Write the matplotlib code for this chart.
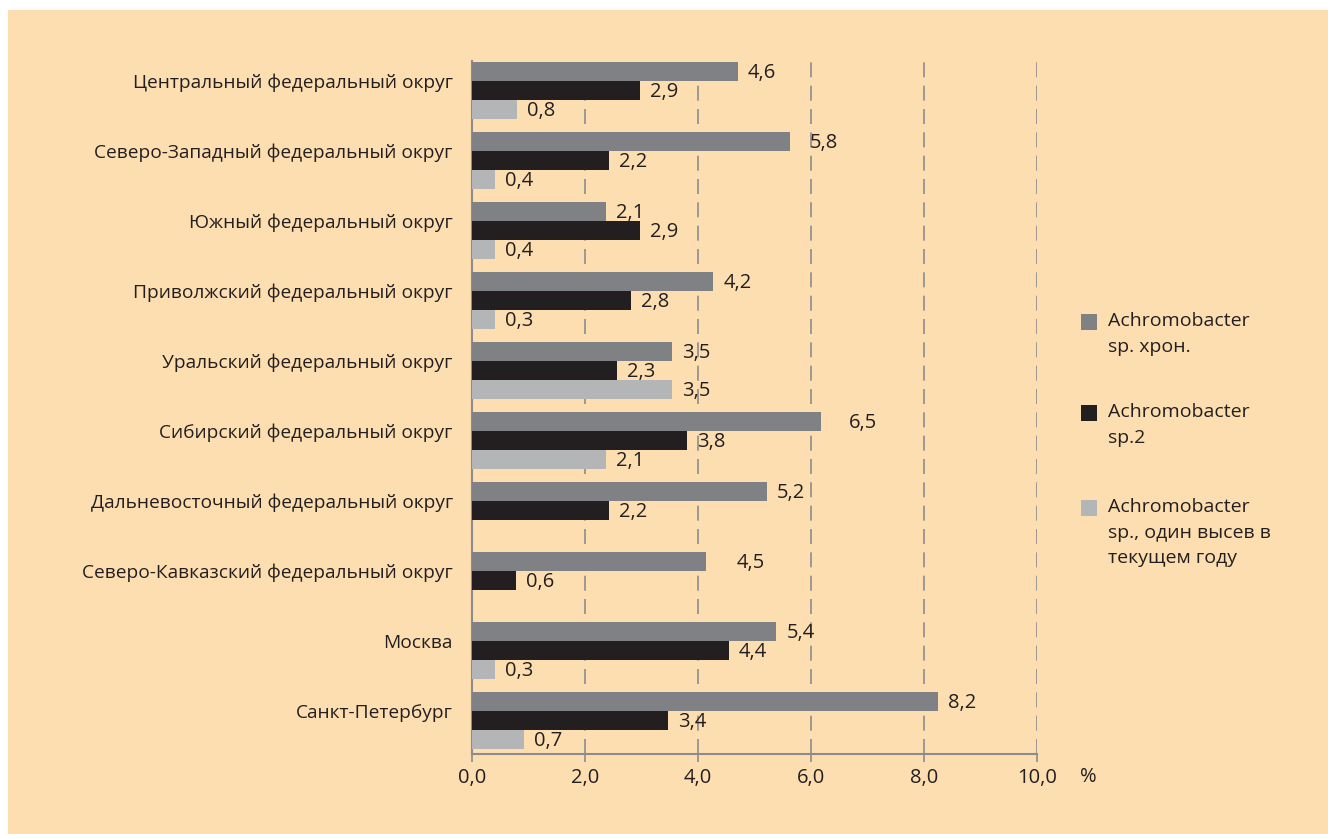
import numpy as np
import matplotlib
matplotlib.use("Agg")
import matplotlib.pyplot as plt
from matplotlib.patches import Rectangle

plt.rcParams['font.family'] = ['Open Sans', 'DejaVu Sans']

# regions, top to bottom
regions = [
    "Центральный федеральный округ",
    "Северо-Западный федеральный округ",
    "Южный федеральный округ",
    "Приволжский федеральный округ",
    "Уральский федеральный округ",
    "Сибирский федеральный округ",
    "Дальневосточный федеральный округ",
    "Северо-Кавказский федеральный округ",
    "Москва",
    "Санкт-Петербург",
]

series_names = [
    "Achromobacter\nsp. хрон.",
    "Achromobacter\nsp.2",
    "Achromobacter\nsp., один высев в\nтекущем году",
]

# bar lengths as drawn in the picture (they don't quite agree with the printed labels)
bars_chron = [4.7, 5.63, 2.37, 4.27, 3.54, 6.18, 5.22, 4.14, 5.38, 8.25]
bars_sp2 = [2.97, 2.42, 2.97, 2.81, 2.57, 3.81, 2.42, 0.78, 4.55, 3.47]
bars_single = [0.8, 0.41, 0.41, 0.41, 3.54, 2.37, None, None, 0.41, 0.92]

# printed values
labels_chron = [4.6, 5.8, 2.1, 4.2, 3.5, 6.5, 5.2, 4.5, 5.4, 8.2]
labels_sp2 = [2.9, 2.2, 2.9, 2.8, 2.3, 3.8, 2.2, 0.6, 4.4, 3.4]
labels_single = [0.8, 0.4, 0.4, 0.3, 3.5, 2.1, None, None, 0.3, 0.7]

xticks = [0, 2, 4, 6, 8, 10]

colors = ["#808184", "#231F20", "#B3B5B6"]
BG = "#FDDEB0"
TXT = "#231F20"
GRID = "#8C8C8C"
W, H = 1328, 834

fig = plt.figure(figsize=(W / 100, H / 100), dpi=100, facecolor="white")
fig.patches.append(Rectangle((8 / W, 0), 1, 1 - 10 / H, transform=fig.transFigure,
                             facecolor=BG, edgecolor="none", zorder=-10))

ax = fig.add_axes([472.3 / W, 1 - 754 / H, (1037 - 472.3) / W, (754 - 61) / H])
ax.patch.set_alpha(0)

y = np.arange(len(regions))
h = 0.269
offsets = [-0.5 * h, 0.5 * h, 1.5 * h]

all_bars = [bars_chron, bars_sp2, bars_single]
all_labels = [labels_chron, labels_sp2, labels_single]

for k in range(3):
    for i in range(len(regions)):
        v = all_bars[k][i]
        if v is None:
            continue
        ax.barh(y[i] + offsets[k], v, height=h, color=colors[k], zorder=3)
        lab = all_labels[k][i]
        ax.annotate(f"{lab:.1f}".replace(".", ","), xy=(max(v, lab), y[i] + offsets[k]),
                    xytext=(7, -1), textcoords="offset points", va="center", ha="left",
                    fontsize=14.5, color=TXT, zorder=4)

ax.set_xlim(0, 10)
ax.set_ylim(9.615, -0.286)

ax.set_xticks(xticks)
ax.set_xticklabels([f"{t:.1f}".replace(".", ",") for t in xticks], fontsize=14.5, color=TXT)
ax.set_yticks(y)
ax.set_yticklabels(regions, fontsize=13.8, color=TXT)
ax.tick_params(axis="y", length=0, pad=14)
ax.tick_params(axis="x", length=5.8, width=1.2, color=GRID, pad=4)

for t in xticks[1:]:
    ax.axvline(t, color=GRID, lw=1.2, ls=(0, (9, 5)), zorder=1)

for s in ["top", "right"]:
    ax.spines[s].set_visible(False)
for s in ["left", "bottom"]:
    ax.spines[s].set_color(GRID)
    ax.spines[s].set_linewidth(1.5)

ax.annotate("%", xy=(1, 0), xycoords="axes fraction", xytext=(43, -23),
            textcoords="offset pixels", ha="left", va="center", fontsize=14.5, color=TXT)

# legend: square next to the first line of each entry
legend_y = [322, 413, 508]
for c, name, ly in zip(colors, series_names, legend_y):
    fig.patches.append(Rectangle((1081 / W, 1 - (ly + 8) / H), 16 / W, 16 / H,
                                 transform=fig.transFigure, facecolor=c, edgecolor="none"))
    fig.text(1108 / W, 1 - (ly - 10) / H, name, ha="left", va="top", fontsize=14,
             color=TXT, linespacing=1.55)

fig.savefig("out.png", dpi=100, facecolor=fig.get_facecolor())
